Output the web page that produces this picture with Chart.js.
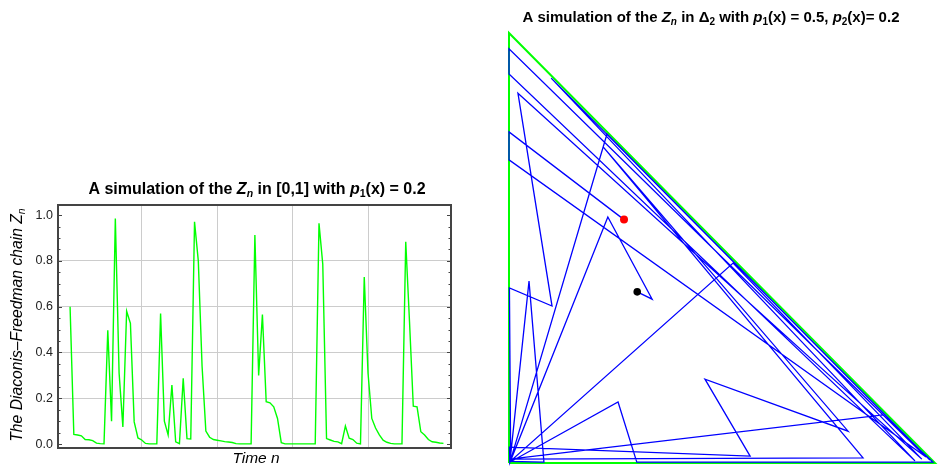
<!DOCTYPE html>
<html>
<head>
<meta charset="utf-8">
<script src="https://cdn.jsdelivr.net/npm/chart.js@4/dist/chart.umd.min.js"></script>
<style>
  html, body { margin: 0; padding: 0; background: #fff; }
  body { width: 940px; height: 468px; position: relative; overflow: hidden; }
  #zChart { position: absolute; left: 0; top: 170px; }
  #simplexChart { position: absolute; left: 490px; top: 0; }
</style>
</head>
<body>
<canvas id="zChart" width="470" height="298"></canvas>
<canvas id="simplexChart" width="450" height="468"></canvas>
<script>
// ─── Data: left panel, Z_n on [0,1], n = 1..100 ───────────────
const zValues = [
  0.600, 0.042, 0.040, 0.036, 0.020, 0.019, 0.015, 0.004, 0.002, 0.001,
  0.497, 0.100, 0.985, 0.310, 0.075, 0.580, 0.527, 0.097, 0.027, 0.018,
  0.003, 0.001, 0.001, 0.001, 0.570, 0.100, 0.040, 0.258, 0.010, 0.002,
  0.287, 0.024, 0.022, 0.971, 0.800, 0.340, 0.057, 0.030, 0.020, 0.017,
  0.014, 0.011, 0.009, 0.007, 0.002, 0.001, 0.001, 0.001, 0.001, 0.913,
  0.300, 0.566, 0.185, 0.180, 0.163, 0.112, 0.006, 0.001, 0.001, 0.001,
  0.001, 0.001, 0.001, 0.001, 0.001, 0.001, 0.964, 0.786, 0.024, 0.018,
  0.012, 0.010, 0.002, 0.079, 0.026, 0.020, 0.004, 0.001, 0.730, 0.310,
  0.112, 0.070, 0.040, 0.017, 0.008, 0.003, 0.001, 0.001, 0.001, 0.883,
  0.534, 0.166, 0.163, 0.054, 0.040, 0.020, 0.010, 0.008, 0.005, 0.003,
];
const timeSteps = zValues.map((_, i) => i + 1);
const yTickLabels = ['0.0', '0.2', '0.4', '0.6', '0.8', '1.0'];
const xGridSteps = [20, 40, 60, 80];

// ─── Data: right panel, walk in the simplex Δ2 ────────────────
const walkX = [
  0.270, 0.000, 0.000, 0.979, 0.000, 0.000, 0.953, 0.099, 0.988, 0.230,
  0.002, 0.047, 0.082, 0.003, 0.526, 0.969, 0.021, 0.101, 0.001, 0.004,
  0.256, 0.300, 0.995, 0.878, 0.001, 0.831, 0.221, 0.796, 0.460, 0.566,
  0.001, 0.002, 0.232, 0.336, 0.301,
];
const walkY = [
  0.566, 0.770, 0.705, 0.014, 0.963, 0.905, 0.005, 0.895, 0.007, 0.765,
  0.001, 0.423, 0.002, 0.004, 0.465, 0.009, 0.860, 0.365, 0.407, 0.003,
  0.142, 0.002, 0.002, 0.112, 0.009, 0.012, 0.735, 0.074, 0.195, 0.016,
  0.037, 0.001, 0.572, 0.381, 0.398,
];
const simplexX = [0, 0, 1, 0];
const simplexY = [0, 1, 0, 0];
const startPoint = [0.270, 0.566];
const endPoint = [0.301, 0.398];

const FONT = '"Liberation Sans", Arial, Helvetica, sans-serif';
const GREEN = 'rgb(0,255,0)';
const BLUE = 'rgb(0,0,255)';

// draw a line of mixed-style text centred on (cx, baseline cy)
function drawRich(ctx, parts, cx, cy, angle) {
    ctx.save();
    ctx.translate(cx, cy);
    if (angle) ctx.rotate(angle);
    ctx.textBaseline = 'alphabetic';
    ctx.textAlign = 'left';
    let w = 0;
    parts.forEach(p => { ctx.font = p.font; w += ctx.measureText(p.text).width; });
    let x = -w / 2;
    parts.forEach(p => {
        ctx.font = p.font;
        ctx.fillStyle = p.color || '#000';
        ctx.fillText(p.text, x, p.dy || 0);
        x += ctx.measureText(p.text).width;
    });
    ctx.restore();
}

// fonts: the left panel is drawn a touch larger than the right one
const bold = s => `bold ${s}px ${FONT}`;
const boldIt = s => `bold italic ${s}px ${FONT}`;
const ital = s => `italic ${s}px ${FONT}`;

const isMajor = v => Math.abs(v * 5 - Math.round(v * 5)) < 1e-6;

// frame, inward ticks and titles of the left panel
const zFramePlugin = {
    id: 'zFrame',
    afterDraw(chart) {
        const { ctx, chartArea: a } = chart;
        const ys = chart.scales.y;
        ctx.save();
        ctx.strokeStyle = '#444';
        ctx.lineWidth = 1;
        ys.ticks.forEach(t => {
            const py = Math.round(ys.getPixelForValue(t.value)) + 0.5;
            const len = isMajor(t.value) ? 4 : 2.5;
            ctx.beginPath();
            ctx.moveTo(a.left, py); ctx.lineTo(a.left + len, py);
            ctx.moveTo(a.right, py); ctx.lineTo(a.right - len, py);
            ctx.stroke();
        });
        ctx.lineWidth = 2;
        ctx.strokeRect(a.left, a.top, a.right - a.left, a.bottom - a.top);
        ctx.restore();

        drawRich(ctx, [
            { text: 'A simulation of the ', font: bold(16) },
            { text: 'Z', font: boldIt(16) },
            { text: 'n', font: boldIt(10.5), dy: 3 },
            { text: ' in [0,1] with ', font: bold(16) },
            { text: 'p', font: boldIt(16) },
            { text: '1', font: bold(10.5), dy: 3 },
            { text: '(x) = 0.2', font: bold(16) },
        ], 257, 24, 0);

        drawRich(ctx, [
            { text: 'The Diaconis\u2013Freedman chain ', font: ital(15.7) },
            { text: 'Z', font: ital(15.7) },
            { text: 'n', font: ital(10.5), dy: 3 },
        ], 22, 155, -Math.PI / 2);

        drawRich(ctx, [{ text: 'Time n', font: ital(15.5) }], 256, 293, 0);
    }
};

const simplexTitlePlugin = {
    id: 'simplexTitle',
    afterDraw(chart) {
        drawRich(chart.ctx, [
            { text: 'A simulation of the ', font: bold(15) },
            { text: 'Z', font: boldIt(15) },
            { text: 'n', font: boldIt(10), dy: 3 },
            { text: ' in ', font: bold(15) },
            { text: '\u0394', font: bold(15) },
            { text: '2', font: bold(10), dy: 3 },
            { text: ' with ', font: bold(15) },
            { text: 'p', font: boldIt(15) },
            { text: '1', font: bold(10), dy: 3 },
            { text: '(x) = 0.5, ', font: bold(15) },
            { text: 'p', font: boldIt(15) },
            { text: '2', font: bold(10), dy: 3 },
            { text: '(x)= 0.2', font: bold(15) },
        ], 221, 22, 0);
    }
};

// ─── Left chart ───────────────────────────────────────────────
new Chart(document.getElementById('zChart'), {
    type: 'line',
    data: {
        datasets: [{
            data: timeSteps.map((n, i) => ({ x: n, y: zValues[i] })),
            borderColor: GREEN,
            borderWidth: 1.4,
            pointRadius: 0,
            tension: 0,
            fill: false,
        }],
    },
    options: {
        responsive: false,
        animation: false,
        events: [],
        layout: { padding: { top: 35, right: 19, left: 0, bottom: 0 } },
        plugins: { legend: { display: false }, tooltip: { enabled: false } },
        scales: {
            x: {
                type: 'linear',
                min: -2.2,
                max: 102,
                afterFit: s => { s.height = 20; },
                ticks: { display: false, stepSize: 20, includeBounds: false },
                grid: {
                    drawTicks: false,
                    lineWidth: 1,
                    color: c => (c.tick && xGridSteps.includes(c.tick.value)) ? '#cccccc' : 'rgba(0,0,0,0)',
                },
                border: { display: false },
            },
            y: {
                type: 'linear',
                min: -0.017,
                max: 1.044,
                afterFit: s => { s.width = 58; },
                ticks: {
                    stepSize: 0.05,
                    includeBounds: false,
                    autoSkip: false,
                    padding: 5,
                    color: '#222',
                    font: { family: FONT, size: 12.5 },
                    callback: v => isMajor(v) ? yTickLabels[Math.round(v * 5)] : '',
                },
                grid: {
                    drawTicks: false,
                    lineWidth: 1,
                    color: c => (c.tick && isMajor(c.tick.value) && c.tick.value > 0.1 && c.tick.value < 0.9) ? '#cccccc' : 'rgba(0,0,0,0)',
                },
                border: { display: false },
            },
        },
    },
    plugins: [zFramePlugin],
});

// ─── Right chart ──────────────────────────────────────────────
new Chart(document.getElementById('simplexChart'), {
    type: 'scatter',
    data: {
        datasets: [
            {
                label: 'start',
                data: [{ x: startPoint[0], y: startPoint[1] }],
                pointRadius: 4,
                pointBackgroundColor: 'rgb(255,0,0)',
                pointBorderWidth: 0,
                order: 0,
            },
            {
                label: 'end',
                data: [{ x: endPoint[0], y: endPoint[1] }],
                pointRadius: 3.8,
                pointBackgroundColor: '#000',
                pointBorderWidth: 0,
                order: 0,
            },
            {
                label: 'walk',
                data: walkX.map((x, i) => ({ x, y: walkY[i] })),
                showLine: true,
                borderColor: BLUE,
                borderWidth: 1.3,
                pointRadius: 0,
                tension: 0,
                clip: false,
                order: 1,
            },
            {
                label: 'simplex',
                data: simplexX.map((x, i) => ({ x, y: simplexY[i] })),
                showLine: true,
                borderColor: GREEN,
                borderWidth: 2,
                pointRadius: 0,
                tension: 0,
                clip: false,
                order: 2,
            },
        ],
    },
    options: {
        responsive: false,
        animation: false,
        events: [],
        layout: { padding: { top: 33, right: 5, left: 19, bottom: 5 } },
        plugins: { legend: { display: false }, tooltip: { enabled: false } },
        scales: {
            x: { type: 'linear', min: 0, max: 1, display: false },
            y: { type: 'linear', min: 0, max: 1, display: false },
        },
    },
    plugins: [simplexTitlePlugin],
});
</script>
</body>
</html>
